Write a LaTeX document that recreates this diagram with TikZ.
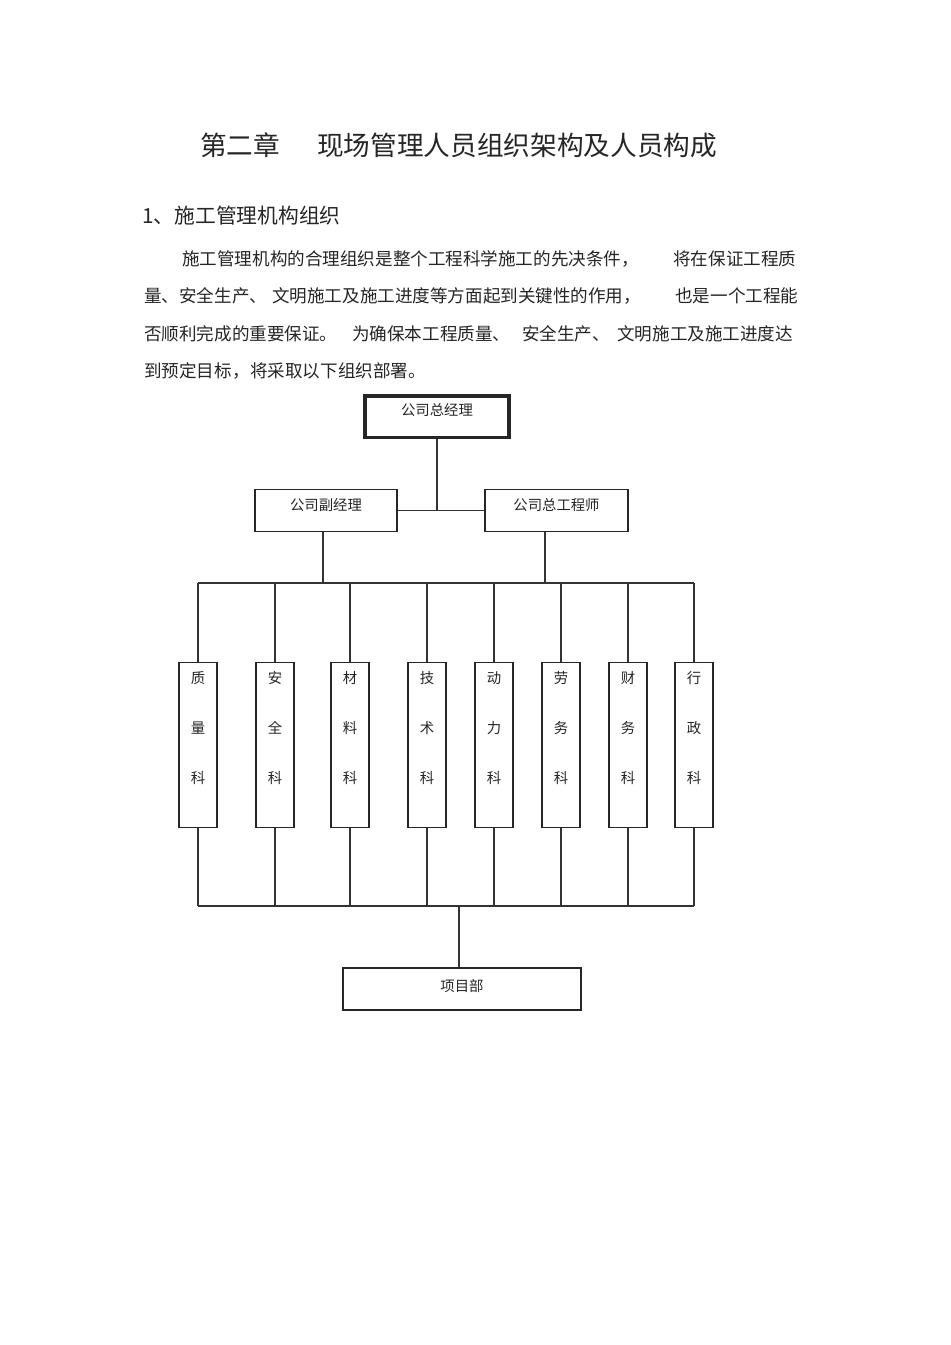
\documentclass[tikz,border=0pt]{standalone}
\usepackage{fontspec}
\newfontfamily\cjk{Noto Sans CJK SC}
\usetikzlibrary{positioning}
\tikzset{
  title/.style={anchor=west, inner sep=0pt, text=black!85, font=\cjk\fontsize{16.7pt}{20pt}\selectfont},
  head/.style={anchor=west, inner sep=0pt, text=black!85, font=\cjk\fontsize{13pt}{16pt}\selectfont},
  body/.style={anchor=west, inner sep=0pt, text=black!85, font=\cjk\fontsize{11pt}{14pt}\selectfont},
  post/.style={draw=black!85, line width=0.8pt, inner xsep=0pt, inner ysep=1.9pt, text height=11pt, text depth=11.6pt, text=black!85, font=\cjk\fontsize{9pt}{11pt}\selectfont},
  chief/.style={post, line width=1.9pt, minimum width=90.2pt, text height=10.3pt, text depth=11.6pt},
  dept/.style={draw=black!85, line width=0.8pt, anchor=north, minimum width=23.8pt, minimum height=103.4pt, inner sep=0pt, align=center, text height=75.4pt, text depth=27.9pt, text=black!85, font=\cjk\fontsize{9pt}{31.3pt}\selectfont},
  link/.style={draw=black!80, line width=0.9pt}
}

\begin{document}
\begin{tikzpicture}[x=0.6265pt, y=-0.6265pt]
  \useasboundingbox[fill=white] (0,0) rectangle (950,1345);

  % heading and text
  \node[title] (t1) at (200,145) {第二章};
  \node[title] (t2) at (317,145) {现场管理人员组织架构及人员构成};
  \node[head] (h1) at (142,216) {1、施工管理机构组织};
  \node[body] (p1a) at (182,259) {施工管理机构的合理组织是整个工程科学施工的先决条件，};
  \node[body] (p1b) at (673,259) {将在保证工程质};
  \node[body] (p2a) at (144,296) {量、安全生产、};
  \node[body] (p2b) at (272,296) {文明施工及施工进度等方面起到关键性的作用，};
  \node[body] (p2c) at (675,296) {也是一个工程能};
  \node[body] (p3a) at (144,334) {否顺利完成的重要保证。};
  \node[body] (p3b) at (352,334) {为确保本工程质量、};
  \node[body] (p3c) at (522,334) {安全生产、};
  \node[body] (p3d) at (617,334) {文明施工及施工进度达};
  \node[body] (p4a) at (144,371) {到预定目标，};
  \node[body] (p4b) at (250,371) {将采取以下组织部署。};

  % chart
  \node[chief] (gm) at (437,416.5) {公司总经理};
  \node[post, minimum width=89pt] (dep) at (326,510.5) {公司副经理};
  \node[post, minimum width=89.6pt] (eng) at (556.5,510.5) {公司总工程师};

  \node[dept] (q1) at (198,662) {质\\量\\科};
  \node[dept] (q2) at (275,662) {安\\全\\科};
  \node[dept] (q3) at (350,662) {材\\料\\科};
  \node[dept] (q4) at (427,662) {技\\术\\科};
  \node[dept] (q5) at (494,662) {动\\力\\科};
  \node[dept] (q6) at (561,662) {劳\\务\\科};
  \node[dept] (q7) at (628,662) {财\\务\\科};
  \node[dept] (q8) at (694,662) {行\\政\\科};

  \node[post, minimum width=149.1pt, text height=12.8pt, text depth=9.7pt] (proj) at (462,989) {项目部};

  \coordinate (top) at (0,583);
  \coordinate (low) at (0,906);

  \draw[link] (gm.south) -- (gm.south |- dep.east);
  \draw[link] (dep.east) -- (eng.west);
  \draw[link] ([xshift=-1.9pt]dep.south) -- ([xshift=-1.9pt]dep.south |- top);
  \draw[link] ([xshift=-7.2pt]eng.south) -- ([xshift=-7.2pt]eng.south |- top);
  \draw[link] (q1.north |- top) -- (q8.north |- top);
  \draw[link] (q1.south |- low) -- (q8.south |- low);

  \draw[link] (q1.north |- top) -- (q1.north) (q1.south) -- (q1.south |- low);
  \draw[link] (q2.north |- top) -- (q2.north) (q2.south) -- (q2.south |- low);
  \draw[link] (q3.north |- top) -- (q3.north) (q3.south) -- (q3.south |- low);
  \draw[link] (q4.north |- top) -- (q4.north) (q4.south) -- (q4.south |- low);
  \draw[link] (q5.north |- top) -- (q5.north) (q5.south) -- (q5.south |- low);
  \draw[link] (q6.north |- top) -- (q6.north) (q6.south) -- (q6.south |- low);
  \draw[link] (q7.north |- top) -- (q7.north) (q7.south) -- (q7.south |- low);
  \draw[link] (q8.north |- top) -- (q8.north) (q8.south) -- (q8.south |- low);

  \draw[link] ([xshift=-1.9pt]proj.north |- low) -- ([xshift=-1.9pt]proj.north);
\end{tikzpicture}
\end{document}
